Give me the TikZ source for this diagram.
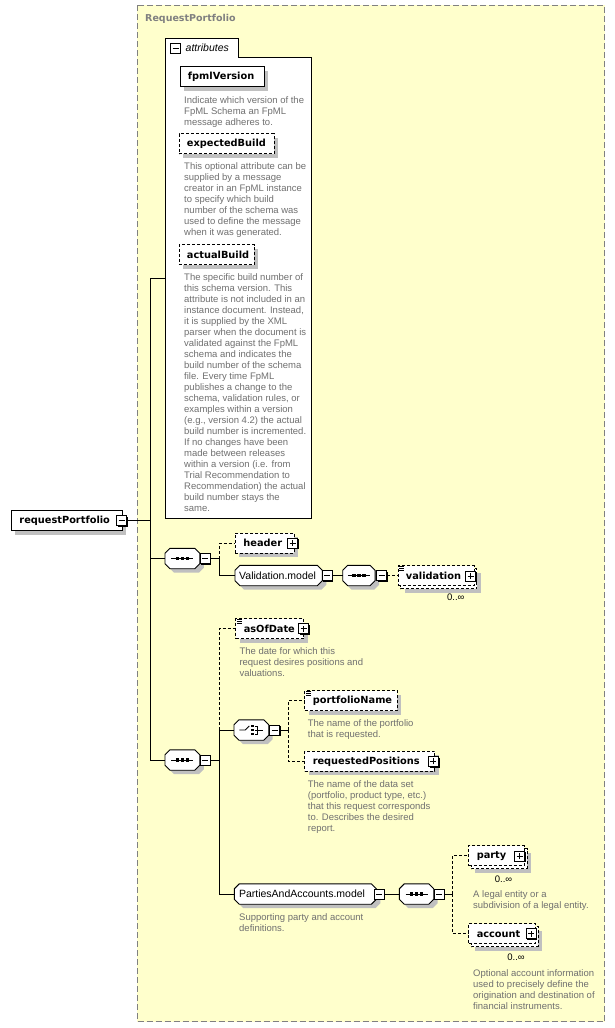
\documentclass[tikz,border=0pt]{standalone}
\usepackage{fontspec}
\setmainfont{Liberation Sans}
\newfontfamily\bfam{DejaVu Sans}
\usetikzlibrary{shadows,calc}
\definecolor{bgy}{RGB}{255,255,204}
\definecolor{bgr}{RGB}{128,128,128}
\definecolor{dgr}{RGB}{112,112,112}
\definecolor{shg}{RGB}{192,192,192}
\newcommand\nmf{\bfam\bfseries\fontsize{9.8}{11}\selectfont}
\newcommand\dsf{\fontsize{9.5}{11}\selectfont}
\newcommand\mdf{\fontsize{10.5}{12}\selectfont}
\newcommand\bx[2]{\makebox[#1][l]{#2}}
\pgfdeclarelayer{back}
\pgfdeclarelayer{mid}
\pgfsetlayers{back,mid,main}
\newcommand\octo[2][5pt]{\begin{pgfonlayer}{mid}\draw[octostyle] ([xshift=#1]#2.north west) -- ([xshift=-#1]#2.north east) -- ([yshift=-#1]#2.north east) -- ([yshift=#1]#2.south east) -- ([xshift=-#1]#2.south east) -- ([xshift=#1]#2.south west) -- ([yshift=#1]#2.south west) -- ([yshift=-#1]#2.north west) -- cycle;\end{pgfonlayer}}
\newcommand\seqicon[1]{\draw[line width=0.9pt] ($(#1.center)+(-11,0)$) -- ($(#1.center)+(11,0)$);
  \foreach \dx in {-5,0,5} {\fill ($(#1.center)+(\dx-1.8,-1.6)$) rectangle ($(#1.center)+(\dx+1.8,1.6)$);}}
\newcommand\simpleicon[1]{\foreach \dy in {1,3,5} {\draw[line width=0.6pt] ($(#1.north west)+(1.5,\dy)$) -- ++(5,0);}}
\begin{document}
\begin{tikzpicture}[x=1pt,y=-1pt,
  conn/.style={line width=0.9pt},
  oconn/.style={line width=0.9pt, dash pattern=on 3pt off 2pt},
  shd/.style={drop shadow={shadow xshift=4pt, shadow yshift=-4pt, fill=shg, opacity=1}},
  el/.style={draw, fill=white, line width=0.9pt, minimum height=20pt, inner xsep=8pt, inner ysep=0pt, anchor=west, font=\nmf, shd},
  oel/.style={el, dash pattern=on 3pt off 2pt},
  oelns/.style={draw, fill=white, line width=0.9pt, minimum height=20pt, inner xsep=8pt, inner ysep=0pt, anchor=west, font=\nmf, dash pattern=on 3pt off 2pt},
  backbox/.style={draw, fill=white, line width=0.9pt, dash pattern=on 3pt off 2pt, shd},
  blank/.style={inner xsep=0pt, inner ysep=0pt, anchor=west, minimum height=20pt},
  octostyle/.style={draw, fill=white, line width=0.9pt, shd},
  icon/.style={draw, fill=white, line width=0.9pt, minimum size=10pt, inner sep=0pt,
    drop shadow={shadow xshift=1.2pt, shadow yshift=-1.2pt, fill=black, opacity=1}},
  minus/.style={icon, path picture={\draw[line width=0.9pt] ([xshift=2pt]path picture bounding box.west) -- ([xshift=-2pt]path picture bounding box.east);}},
  plus/.style={icon, path picture={\draw[line width=0.9pt] ([xshift=2pt]path picture bounding box.west) -- ([xshift=-2pt]path picture bounding box.east); \draw[line width=0.9pt] ([yshift=2pt]path picture bounding box.south) -- ([yshift=-2pt]path picture bounding box.north);}},
  desc/.style={anchor=north west, inner sep=0pt, align=left, text=dgr, font=\dsf},
  card/.style={inner sep=0pt, font=\dsf},
]
\useasboundingbox (0,0) rectangle (615,1028);
\begin{pgfonlayer}{back}
\fill[white] (0,0) rectangle (615,1028);
\fill[bgy] (137,5) rectangle (604.5,1021.5);
\draw[bgr, line width=0.9pt, dash pattern=on 6pt off 3pt] (137,5) rectangle (604.5,1021.5);
\end{pgfonlayer}
\node[anchor=west, inner sep=0pt, text=bgr, font=\bfam\bfseries\fontsize{9.5}{11}\selectfont] (title) at (145,19) {RequestPortfolio};

% attributes box
\node[inner sep=0pt, minimum width=146pt, minimum height=480pt] (attr) at (238.5,278.5) {};
\draw[fill=white, line width=0.9pt] (165.5,518.5) -- (165.5,38.5) -- (238,38.5) -- (238,57.5) -- (311.5,57.5) -- (311.5,518.5) -- cycle;
\node[draw, fill=white, line width=0.9pt, minimum size=10pt, inner sep=0pt, path picture={\draw[line width=0.9pt] ([xshift=2pt]path picture bounding box.west) -- ([xshift=-2pt]path picture bounding box.east);}] (am) at (175.5,48) {};
\node[anchor=west, inner sep=0pt, font=\itshape\fontsize{10.5}{12}\selectfont] (attrt) at (185.5,48) {attributes};

\node[el] (fpml) at (179.5,76.5) {\bx{68.5pt}{fpmlVersion}};
\node[desc] (fpmld) at (184,96.5) {Indicate which version of the\\FpML Schema an FpML\\message adheres to.};
\node[oel] (exb) at (178.5,143.5) {\bx{79pt}{expectedBuild}};
\node[desc] (exbd) at (184,162.2) {This optional attribute can be\\supplied by a message\\creator in an FpML instance\\to specify which build\\number of the schema was\\used to define the message\\when it was generated.};
\node[oel] (acb) at (178.5,254.5) {\bx{59.5pt}{actualBuild}};
\node[desc] (acbd) at (184,273.2) {The specific build number of\\this schema version. This\\attribute is not included in an\\instance document. Instead,\\it is supplied by the XML\\parser when the document is\\validated against the FpML\\schema and indicates the\\build number of the schema\\file. Every time FpML\\publishes a change to the\\schema, validation rules, or\\examples within a version\\(e.g., version 4.2) the actual\\build number is incremented.\\If no changes have been\\made between releases\\within a version (i.e. from\\Trial Recommendation to\\Recommendation) the actual\\build number stays the\\same.};

% root
\node[el] (rp) at (11,520.5) {\bx{94.5pt}{requestPortfolio}};
\node[minus] (rpm) at (121.5,520.5) {};
\coordinate (j0) at (150.7,520.5);

% sequence 1
\node[blank, minimum width=34.5pt] (s1) at (165,558.5) {};
\octo{s1}
\seqicon{s1}
\node[minus] (s1m) at (205,558.5) {};
\coordinate (j1) at (219,558.5);
\node[oel] (hdr) at (235,543) {\bx{43pt}{header}};
\node[plus] (hdrp) at (292.5,543) {};
\node[blank, minimum width=87pt, inner xsep=4pt, font=\mdf] (vm) at (235,575.5) {\bx{79pt}{Validation.model}};
\octo{vm}
\node[minus] (vmm) at (327.2,575.5) {};
\node[blank, minimum width=32pt] (s1b) at (342.7,575.5) {};
\octo{s1b}
\seqicon{s1b}
\node[minus] (s1bm) at (381.7,575.5) {};
\draw[backbox] (400.5,568.5) rectangle (476.5,588.5);
\node[oelns] (val) at (397.5,575.5) {\bx{60pt}{validation}};
\simpleicon{val}
\node[plus] (valp) at (470.7,576) {};
\node[card] (valc) at (455.8,597.5) {0..∞};

% sequence 2
\node[blank, minimum width=34.5pt] (s2) at (165,760) {};
\octo{s2}
\seqicon{s2}
\node[minus] (s2m) at (205,760) {};
\coordinate (j2) at (219,760);
\node[oel] (asof) at (235.3,628.5) {\bx{52pt}{asOfDate}};
\simpleicon{asof}
\node[plus] (asofp) at (303.5,628.5) {};
\node[desc] (asofd) at (239.3,647.5) {The date for which this\\request desires positions and\\valuations.};

% choice
\node[blank, minimum width=34.3pt] (ch) at (234,730) {};
\octo{ch}
\draw[line width=0.9pt] ($(ch.center)+(-12,0)$) -- ($(ch.center)+(-6,0)$) -- ($(ch.center)+(-2,-4)$);
\foreach \dy in {-4,0,4} {\fill ($(ch.center)+(0,\dy-1.1)$) rectangle ($(ch.center)+(2.4,\dy+1.1)$);}
\draw[line width=0.9pt] ($(ch.center)+(3.5,-4)$) -- ($(ch.center)+(6,-4)$) -- ($(ch.center)+(6,4)$) -- ($(ch.center)+(3.5,4)$);
\draw[line width=0.9pt] ($(ch.center)+(3.5,0)$) -- ($(ch.center)+(12,0)$);
\node[minus] (chm) at (274.5,730) {};
\coordinate (j3) at (288.3,730);
\node[oel] (pn) at (304.3,700.7) {\bx{76.4pt}{portfolioName}};
\simpleicon{pn}
\node[desc] (pnd) at (307.7,719.2) {The name of the portfolio\\that is requested.};
\node[oel] (rqp) at (304.3,761.3) {\bx{114pt}{requestedPositions}};
\node[plus] (rqpp) at (433.3,761.3) {};
\node[desc] (rqpd) at (307.7,780.5) {The name of the data set\\(portfolio, product type, etc.)\\that this request corresponds\\to. Describes the desired\\report.};

% parties and accounts
\node[blank, minimum width=141.7pt, inner xsep=4.5pt, font=\mdf] (pa) at (234.3,894) {\bx{132.7pt}{PartiesAndAccounts.model}};
\octo{pa}
\node[minus] (pam) at (379,894) {};
\node[desc] (pad) at (239,913.8) {Supporting party and account\\definitions.};
\node[blank, minimum width=34pt] (s3) at (399.3,894) {};
\octo{s3}
\seqicon{s3}
\node[minus] (s3m) at (439,894) {};
\coordinate (j4) at (452.7,894);
\draw[backbox] (471.3,848.7) rectangle (527,868.7);
\node[oelns] (party) at (468.3,855.7) {\bx{39.7pt}{party}};
\node[plus] (partyp) at (519.5,856) {};
\node[card] (partyc) at (503.5,879.5) {0..∞};
\node[desc] (partyd) at (473,890.8) {A legal entity or a\\subdivision of a legal entity.};
\draw[backbox] (471.3,926.7) rectangle (538,946.7);
\node[oelns] (acct) at (468.3,933.7) {\bx{50.7pt}{account}};
\node[plus] (acctp) at (531,933.8) {};
\node[card] (acctc) at (516,957.5) {0..∞};
\node[desc] (acctd) at (473,969.8) {Optional account information\\used to precisely define the\\origination and destination of\\financial instruments.};

% connectors
\draw[conn] (rpm.east) -- (j0);
\draw[conn] (j0) |- (attr.west);
\draw[conn] (j0) |- (s1.west);
\draw[conn] (j0) |- (s2.west);
\draw[conn] (s1m.east) -- (j1);
\draw[oconn] (j1) |- (hdr.west);
\draw[conn] (j1) |- (vm.west);
\draw[conn] (vmm.east) -- (s1b.west);
\draw[oconn] (s1bm.east) -- (val.west);
\draw[conn] (s2m.east) -- (j2);
\draw[oconn] (j2) |- (asof.west);
\draw[conn] (j2) |- (ch.west);
\draw[conn] (j2) |- (pa.west);
\draw[conn] (chm.east) -- (j3);
\draw[oconn] (j3) |- (pn.west);
\draw[oconn] (j3) |- (rqp.west);
\draw[conn] (pam.east) -- (s3.west);
\draw[conn] (s3m.east) -- (j4);
\draw[oconn] (j4) |- (party.west);
\draw[oconn] (j4) |- (acct.west);
\end{tikzpicture}
\end{document}
